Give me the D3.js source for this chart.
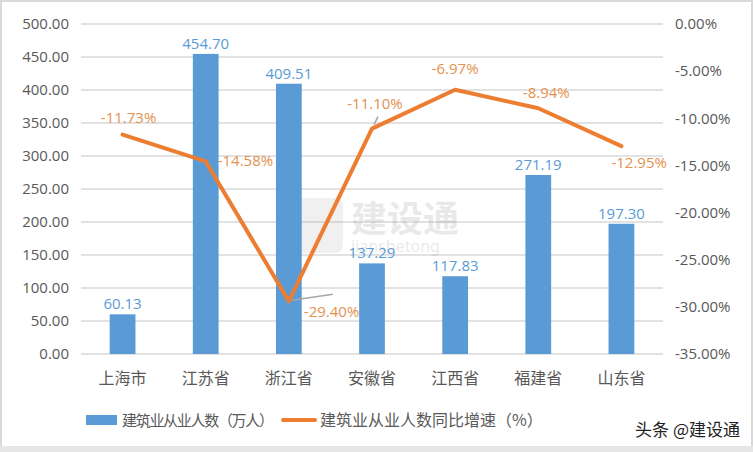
<!DOCTYPE html>
<html>
<head>
<meta charset="utf-8">
<script src="https://cdn.jsdelivr.net/npm/d3@7"></script>
<style>
  body { margin: 0; background: #fff; }
  svg { display: block; font-family: "Noto Sans", "Noto Sans CJK SC", sans-serif; }
</style>
</head>
<body>
<svg id="chart" width="753" height="452"></svg>
<script>
const provinces = ['上海市', '江苏省', '浙江省', '安徽省', '江西省', '福建省', '山东省']
const workers = [60.13, 454.70, 409.51, 137.29, 117.83, 271.19, 197.30]
const growth = [-11.73, -14.58, -29.40, -11.10, -6.97, -8.94, -12.95]
const leftTicks = [0, 50, 100, 150, 200, 250, 300, 350, 400, 450, 500]
const rightTicks = [0, -5, -10, -15, -20, -25, -30, -35]

// label offsets relative to the point (dx, dy), plus a leader line for some
const labelPos = [
	{dx: 6, dy: -12, anchor: 'middle'},
	{dx: 12, dy: 5, anchor: 'start'},
	{dx: 15, dy: 16, anchor: 'start', leader: [[3, -1], [44, -7]]},
	{dx: 3, dy: -20, anchor: 'middle', leader: [[2, -4], [6, -12]]},
	{dx: 0, dy: -16, anchor: 'middle'},
	{dx: 8, dy: -10, anchor: 'middle'},
	{dx: -10, dy: 22, anchor: 'start'}
]

const fmt2 = d => d3.format('.2f')(d).replace('−', '-')

const svg = d3.select('#chart')
const width = +svg.attr('width')
const height = +svg.attr('height')

const blue = '#5b9bd5'
const orange = '#ed7d31'

svg.append('rect')
	.attr('x', 1).attr('y', 1)
	.attr('width', width - 2).attr('height', height - 2)
	.attr('fill', '#fff')
	.attr('stroke', '#d9d9d9')
	.attr('stroke-width', 2)

svg.append('rect')
	.attr('x', 0).attr('y', 446)
	.attr('width', width).attr('height', 6)
	.attr('fill', '#e6e6e6')

const margin = {top: 24, right: 90, bottom: 98, left: 81}
const innerWidth = width - margin.left - margin.right
const innerHeight = height - margin.top - margin.bottom

const g = svg.append('g')
	.attr('transform', `translate(${margin.left}, ${margin.top})`)

const xScale = d3.scaleBand()
	.domain(provinces)
	.range([0, innerWidth])
	.paddingInner(0.69)
	.paddingOuter(0.345)

const yScale = d3.scaleLinear()
	.domain([0, 500])
	.range([innerHeight, 0])

const y2Scale = d3.scaleLinear()
	.domain([-35, 0])
	.range([innerHeight, 0])

// gridlines
g.append('g')
	.selectAll('line')
	.data(leftTicks)
	.enter().append('line')
	.attr('x1', 0)
	.attr('x2', innerWidth)
	.attr('y1', d => yScale(d))
	.attr('y2', d => yScale(d))
	.attr('stroke', '#d9d9d9')
	.attr('stroke-width', 1.5)

// watermark
const wm = g.append('g').attr('opacity', 0.12)
wm.append('rect')
	.attr('x', 210).attr('y', 174)
	.attr('width', 52).attr('height', 55)
	.attr('rx', 8)
	.attr('fill', '#8a8a8a')
wm.append('text')
	.attr('x', 270).attr('y', 208)
	.text('建设通')
	.attr('font-size', 36)
	.attr('font-weight', 'bold')
	.attr('font-family', '"Noto Sans CJK SC"')
	.attr('fill', '#555')
wm.append('text')
	.attr('x', 270).attr('y', 228)
	.text('jianshetong')
	.attr('font-size', 16)
	.attr('fill', '#555')

const yAxis = d3.axisLeft(yScale)
	.tickValues(leftTicks)
	.tickFormat(fmt2)
	.tickSize(0)
	.tickPadding(12)

const y2Axis = d3.axisRight(y2Scale)
	.tickValues(rightTicks)
	.tickFormat(d => fmt2(d) + '%')
	.tickSize(0)
	.tickPadding(12)

const yAxisG = g.append('g').call(yAxis)
yAxisG.select('.domain').remove()
yAxisG.selectAll('text')
	.attr('font-size', 15)
	.attr('fill', '#595959')
	.attr('font-family', '"Open Sans", sans-serif')

const y2AxisG = g.append('g')
	.attr('transform', `translate(${innerWidth}, 0)`)
	.call(y2Axis)
y2AxisG.select('.domain').remove()
y2AxisG.selectAll('text')
	.attr('font-size', 15)
	.attr('fill', '#595959')
	.attr('font-family', '"Open Sans", sans-serif')

// bars
g.append('g')
	.selectAll('rect')
	.data(workers)
	.enter().append('rect')
	.attr('x', (d, i) => xScale(provinces[i]))
	.attr('y', d => yScale(d))
	.attr('width', xScale.bandwidth())
	.attr('height', d => innerHeight - yScale(d))
	.attr('fill', blue)

// category labels
g.append('g')
	.selectAll('text')
	.data(provinces)
	.enter().append('text')
	.attr('x', d => xScale(d) + xScale.bandwidth() / 2)
	.attr('y', innerHeight + 30)
	.attr('text-anchor', 'middle')
	.attr('font-size', 16)
	.attr('font-family', '"Noto Sans CJK SC"')
	.attr('fill', '#595959')
	.text(d => d)

// bar value labels
g.append('g')
	.selectAll('text')
	.data(workers)
	.enter().append('text')
	.attr('x', (d, i) => xScale(provinces[i]) + xScale.bandwidth() / 2)
	.attr('y', d => yScale(d) - 5)
	.attr('text-anchor', 'middle')
	.attr('font-size', 15)
	.attr('font-family', '"Open Sans", sans-serif')
	.attr('fill', '#5b9bd5')
	.text(fmt2)

// line
const cx = i => xScale(provinces[i]) + xScale.bandwidth() / 2
const line = d3.line()
	.x((d, i) => cx(i))
	.y(d => y2Scale(d))

g.append('path')
	.datum(growth)
	.attr('d', line)
	.attr('fill', 'none')
	.attr('stroke', orange)
	.attr('stroke-width', 4)
	.attr('stroke-linejoin', 'round')
	.attr('stroke-linecap', 'round')

// leader lines
growth.forEach((d, i) => {
	const p = labelPos[i]
	if (p.leader) {
		g.append('line')
			.attr('x1', cx(i) + p.leader[0][0])
			.attr('y1', y2Scale(d) + p.leader[0][1])
			.attr('x2', cx(i) + p.leader[1][0])
			.attr('y2', y2Scale(d) + p.leader[1][1])
			.attr('stroke', '#a6a6a6')
			.attr('stroke-width', 1.5)
	}
})

g.append('g')
	.selectAll('text')
	.data(growth)
	.enter().append('text')
	.attr('x', (d, i) => cx(i) + labelPos[i].dx)
	.attr('y', (d, i) => y2Scale(d) + labelPos[i].dy)
	.attr('text-anchor', (d, i) => labelPos[i].anchor)
	.attr('font-size', 15)
	.attr('font-family', '"Open Sans", sans-serif')
	.attr('fill', '#e4914f')
	.text(d => fmt2(d) + '%')

// legend
const legend = svg.append('g')
	.attr('transform', 'translate(0, 420)')

legend.append('rect')
	.attr('x', 86).attr('y', -5)
	.attr('width', 31).attr('height', 10)
	.attr('fill', blue)

legend.append('text')
	.attr('x', 122).attr('y', 6)
	.attr('font-size', 15)
	.attr('textLength', 152)
	.attr('lengthAdjust', 'spacing')
	.attr('font-family', '"Noto Sans CJK SC"')
	.attr('fill', '#595959')
	.text('建筑业从业人数（万人）')

legend.append('line')
	.attr('x1', 283).attr('x2', 315)
	.attr('y1', 0).attr('y2', 0)
	.attr('stroke', orange)
	.attr('stroke-width', 4)
	.attr('stroke-linecap', 'round')

legend.append('text')
	.attr('x', 320).attr('y', 6)
	.attr('font-size', 16)
	.attr('font-family', '"Noto Sans CJK SC"')
	.attr('fill', '#595959')
	.text('建筑业从业人数同比增速（%）')

// source mark
svg.append('text')
	.attr('x', 740).attr('y', 436)
	.attr('text-anchor', 'end')
	.attr('font-size', 17)
	.attr('font-family', '"Noto Sans CJK SC"')
	.attr('fill', '#222')
	.attr('stroke', '#fff')
	.attr('stroke-width', 3)
	.attr('paint-order', 'stroke')
	.text('头条 @建设通')
</script>
</body>
</html>
